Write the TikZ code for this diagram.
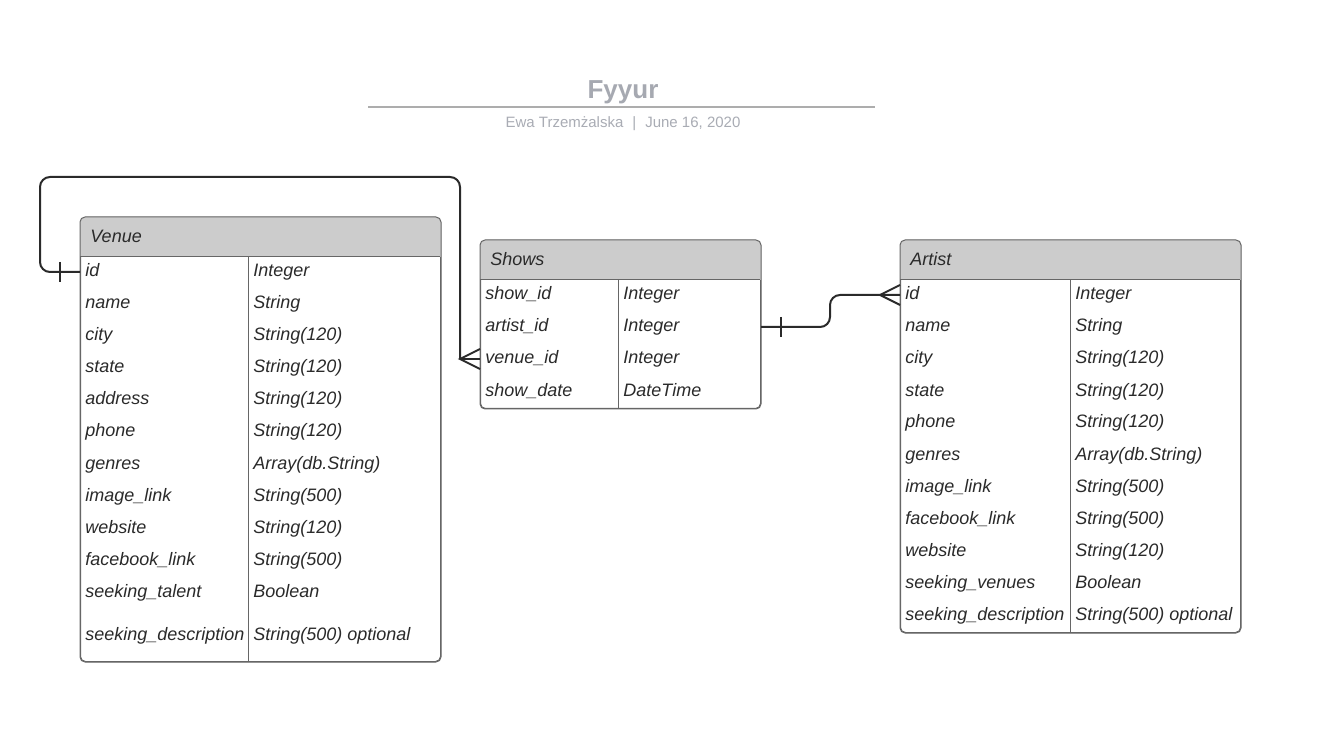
\documentclass[tikz,border=0pt]{standalone}
\usepackage{fontspec}
\setmainfont{Liberation Sans}
\usetikzlibrary{calc}
\definecolor{titlegray}{HTML}{A6A9B1}
\definecolor{subgray}{HTML}{A9ACB4}
\definecolor{rulegray}{HTML}{ADADAD}
\definecolor{headfill}{HTML}{CCCCCC}
\definecolor{framegray}{HTML}{666666}
\definecolor{inkdark}{HTML}{2A2A2A}
\begin{document}
\begin{tikzpicture}[x=0.5pt,y=-0.5pt,
  tablebox/.style={draw=framegray, line width=0.5pt, rounded corners=2.5pt, inner sep=0pt, anchor=north west},
  frame/.style={draw=framegray, line width=0.5pt},
  headtxt/.style={anchor=west, inner sep=0pt, text=inkdark, font=\itshape\fontsize{9}{11}\selectfont},
  fieldtxt/.style={anchor=west, inner sep=0pt, text height=7pt, text depth=2pt, text=inkdark, font=\itshape\fontsize{9}{11}\selectfont},
  rel/.style={draw=inkdark, line width=1pt}]
\useasboundingbox (0,0) rectangle (1320,742);
\fill[white] (0,0) rectangle (1320,742);

% title block
\node[font=\bfseries\fontsize{13}{15}\selectfont, text=titlegray] (title) at (623,92) {Fyyur};
\draw[rulegray, line width=1pt] (368,107) -- (875,107);
\node[font=\fontsize{7.5}{9}\selectfont, text=subgray] (subtitle) at (623,124)
  {Ewa Trzemżalska\hspace{4.5pt}|\hspace{4.5pt}June 16, 2020};

% Venue
\node[tablebox, minimum width=180pt, minimum height=222pt] (venue) at (80,217) {};
\begin{scope}
\clip[rounded corners=2.5pt] (venue.north west) rectangle (venue.south east);
\fill[headfill] (venue.north west) rectangle ($(venue.north east)+(0,40)$);
\end{scope}
\draw[tablebox] (venue.north west) rectangle (venue.south east);
\draw[frame] (80,257) -- (440,257);
\draw[frame] (248,257) -- (248,661);
\node[headtxt] (venue-h) at (90,236) {Venue};
\foreach \nm/\ty [count=\i] in {id/Integer, name/String, city/String(120), state/String(120),
    address/String(120), phone/String(120), genres/Array(db.String), image\_link/String(500),
    website/String(120), facebook\_link/String(500), seeking\_talent/Boolean} {
  \node[fieldtxt] (v\i) at (85,240+32*\i) {\nm};
  \node[fieldtxt] (vt\i) at (253,240+32*\i) {\ty};
}
\node[fieldtxt] (v12) at (85,635) {seeking\_description};
\node[fieldtxt] (vt12) at (253,635) {String(500) optional};

% Shows
\node[tablebox, minimum width=140pt, minimum height=84pt] (shows) at (480,240) {};
\begin{scope}
\clip[rounded corners=2.5pt] (shows.north west) rectangle (shows.south east);
\fill[headfill] (shows.north west) rectangle ($(shows.north east)+(0,40)$);
\end{scope}
\draw[tablebox] (shows.north west) rectangle (shows.south east);
\draw[frame] (480,280) -- (760,280);
\draw[frame] (618,280) -- (618,408);
\node[headtxt] (shows-h) at (490,259) {Shows};
\foreach \nm/\ty [count=\i] in {show\_id/Integer, artist\_id/Integer, venue\_id/Integer, show\_date/DateTime} {
  \node[fieldtxt] (s\i) at (485,263+32*\i) {\nm};
  \node[fieldtxt] (st\i) at (623,263+32*\i) {\ty};
}

% Artist
\node[tablebox, minimum width=170pt, minimum height=196pt] (artist) at (900,240) {};
\begin{scope}
\clip[rounded corners=2.5pt] (artist.north west) rectangle (artist.south east);
\fill[headfill] (artist.north west) rectangle ($(artist.north east)+(0,40)$);
\end{scope}
\draw[tablebox] (artist.north west) rectangle (artist.south east);
\draw[frame] (900,280) -- (1240,280);
\draw[frame] (1070,280) -- (1070,632);
\node[headtxt] (artist-h) at (910,259) {Artist};
\foreach \nm/\ty [count=\i] in {id/Integer, name/String, city/String(120), state/String(120),
    phone/String(120), genres/Array(db.String), image\_link/String(500), facebook\_link/String(500),
    website/String(120), seeking\_venues/Boolean, seeking\_description/String(500) optional} {
  \node[fieldtxt] (a\i) at (905,263+32*\i) {\nm};
  \node[fieldtxt] (at\i) at (1075,263+32*\i) {\ty};
}

% Venue 1 -- n Shows
\draw[rel, rounded corners=5pt] (venue.west |- v1) -- (40,272) -- (40,177) -- (460,177) -- (460,359);
\draw[rel] (460,359) -- (shows.west |- s3);
\draw[rel] ($(venue.west |- v1)+(-20,-10)$) -- ++(0,20);
\draw[rel] ($(shows.west |- s3)+(0,-10)$) -- (460,359) -- ($(shows.west |- s3)+(0,10)$);

% Artist 1 -- n Shows
\draw[rel, rounded corners=5pt] (shows.east |- s2) -- (830,327) -- (830,295) -- (artist.west |- a1);
\draw[rel] ($(shows.east |- s2)+(20,-10)$) -- ++(0,20);
\draw[rel] ($(artist.west |- a1)+(0,-10)$) -- ++(-20,10) -- ++(20,10);
\end{tikzpicture}
\end{document}
